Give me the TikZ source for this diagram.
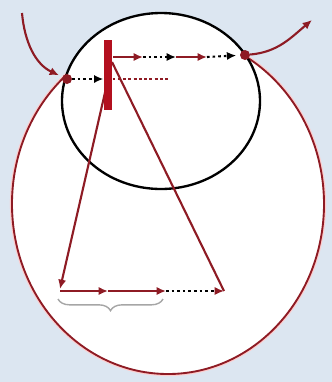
\documentclass[tikz,border=0pt]{standalone}
\usetikzlibrary{arrows.meta,shapes.geometric,decorations.pathreplacing}
\definecolor{bgblue}{HTML}{DCE6F1}
\definecolor{pathred}{HTML}{8E1B24}
\definecolor{barred}{HTML}{B3101F}

\begin{document}
\begin{tikzpicture}[x=0.03cm, y=-0.03cm,
    region/.style={ellipse, draw, line width=1.6pt, fill=white, inner sep=0pt},
    hit/.style={circle, fill=pathred, minimum size=0.3cm, inner sep=0pt},
    wallbar/.style={rectangle, fill=barred, minimum width=0.26cm,
                    minimum height=2.1cm, inner sep=0pt},
    redarrow/.style={pathred, line width=1.8pt, -{Latex[length=8pt,width=7pt]}},
    dotarrow/.style={black, line width=1.8pt, dash pattern=on 2.2pt off 2.6pt,
                     -{Latex[length=8pt,width=7pt]}},
    redline/.style={pathred, line width=1.8pt},
    gapline/.style={pathred, line width=1.1pt, dash pattern=on 2.5pt off 2pt},
    brace/.style={decorate, decoration={brace, mirror, amplitude=0.35cm},
                  gray!70, line width=1.2pt}
]
\fill[bgblue] (0,0) rectangle (332,382);
\useasboundingbox (0,0) rectangle (332,382);

% the two regions
\node[region, draw=pathred, preaction={draw=red!20, line width=3.5pt},
      minimum width=9.36cm, minimum height=10.2cm] (outer) at (168,204) {};
\node[region, draw=black, line width=2pt, minimum width=5.94cm,
      minimum height=5.28cm] (inner) at (161,101) {};

% points of the walk
\node[hit] (entry) at (67,79) {};
\node[hit] (exit) at (245,55) {};
\coordinate (src) at (22,13);
\coordinate (sink) at (312,20);
\coordinate (t1) at (113,57);
\coordinate (t2) at (143,57);
\coordinate (t3) at (176,57);
\coordinate (t4) at (207,57);
\coordinate (d1) at (170,79);
\coordinate (kink) at (112,62);
\coordinate (low) at (60,289);
\coordinate (b0) at (60,291);
\coordinate (b1) at (108,291);
\coordinate (b2) at (166,291);
\coordinate (far) at (224,291);
\coordinate (bl) at (58,299);
\coordinate (br) at (163,299);

% in and out
\draw[redarrow, shorten >=3pt] (src) to[out=-85, in=155] (entry);
\draw[redarrow] (exit) to[out=5, in=220] (sink);

% walk below
\draw[redarrow] (kink) -- (low);
\draw[redarrow] (b0) -- (b1);
\draw[redarrow] (b1) -- (b2);
\draw[dotarrow, -{Latex[length=8pt,width=7pt,color=pathred]}] (b2) -- (far);
\draw[redline] (far) -- (kink);
\draw[brace] (bl) -- (br);

% first crossing
\node[wallbar] (wall) at (108,75) {};
\draw[dotarrow] (entry) -- (entry -| wall.west);
\draw[gapline] (entry -| wall.east) -- (d1);

% walk out
\draw[redarrow] (t1) -- (t2);
\draw[dotarrow] (t2) -- (t3);
\draw[redarrow] (t3) -- (t4);
\draw[dotarrow, shorten >=3pt] (t4) -- (exit);
\end{tikzpicture}
\end{document}
